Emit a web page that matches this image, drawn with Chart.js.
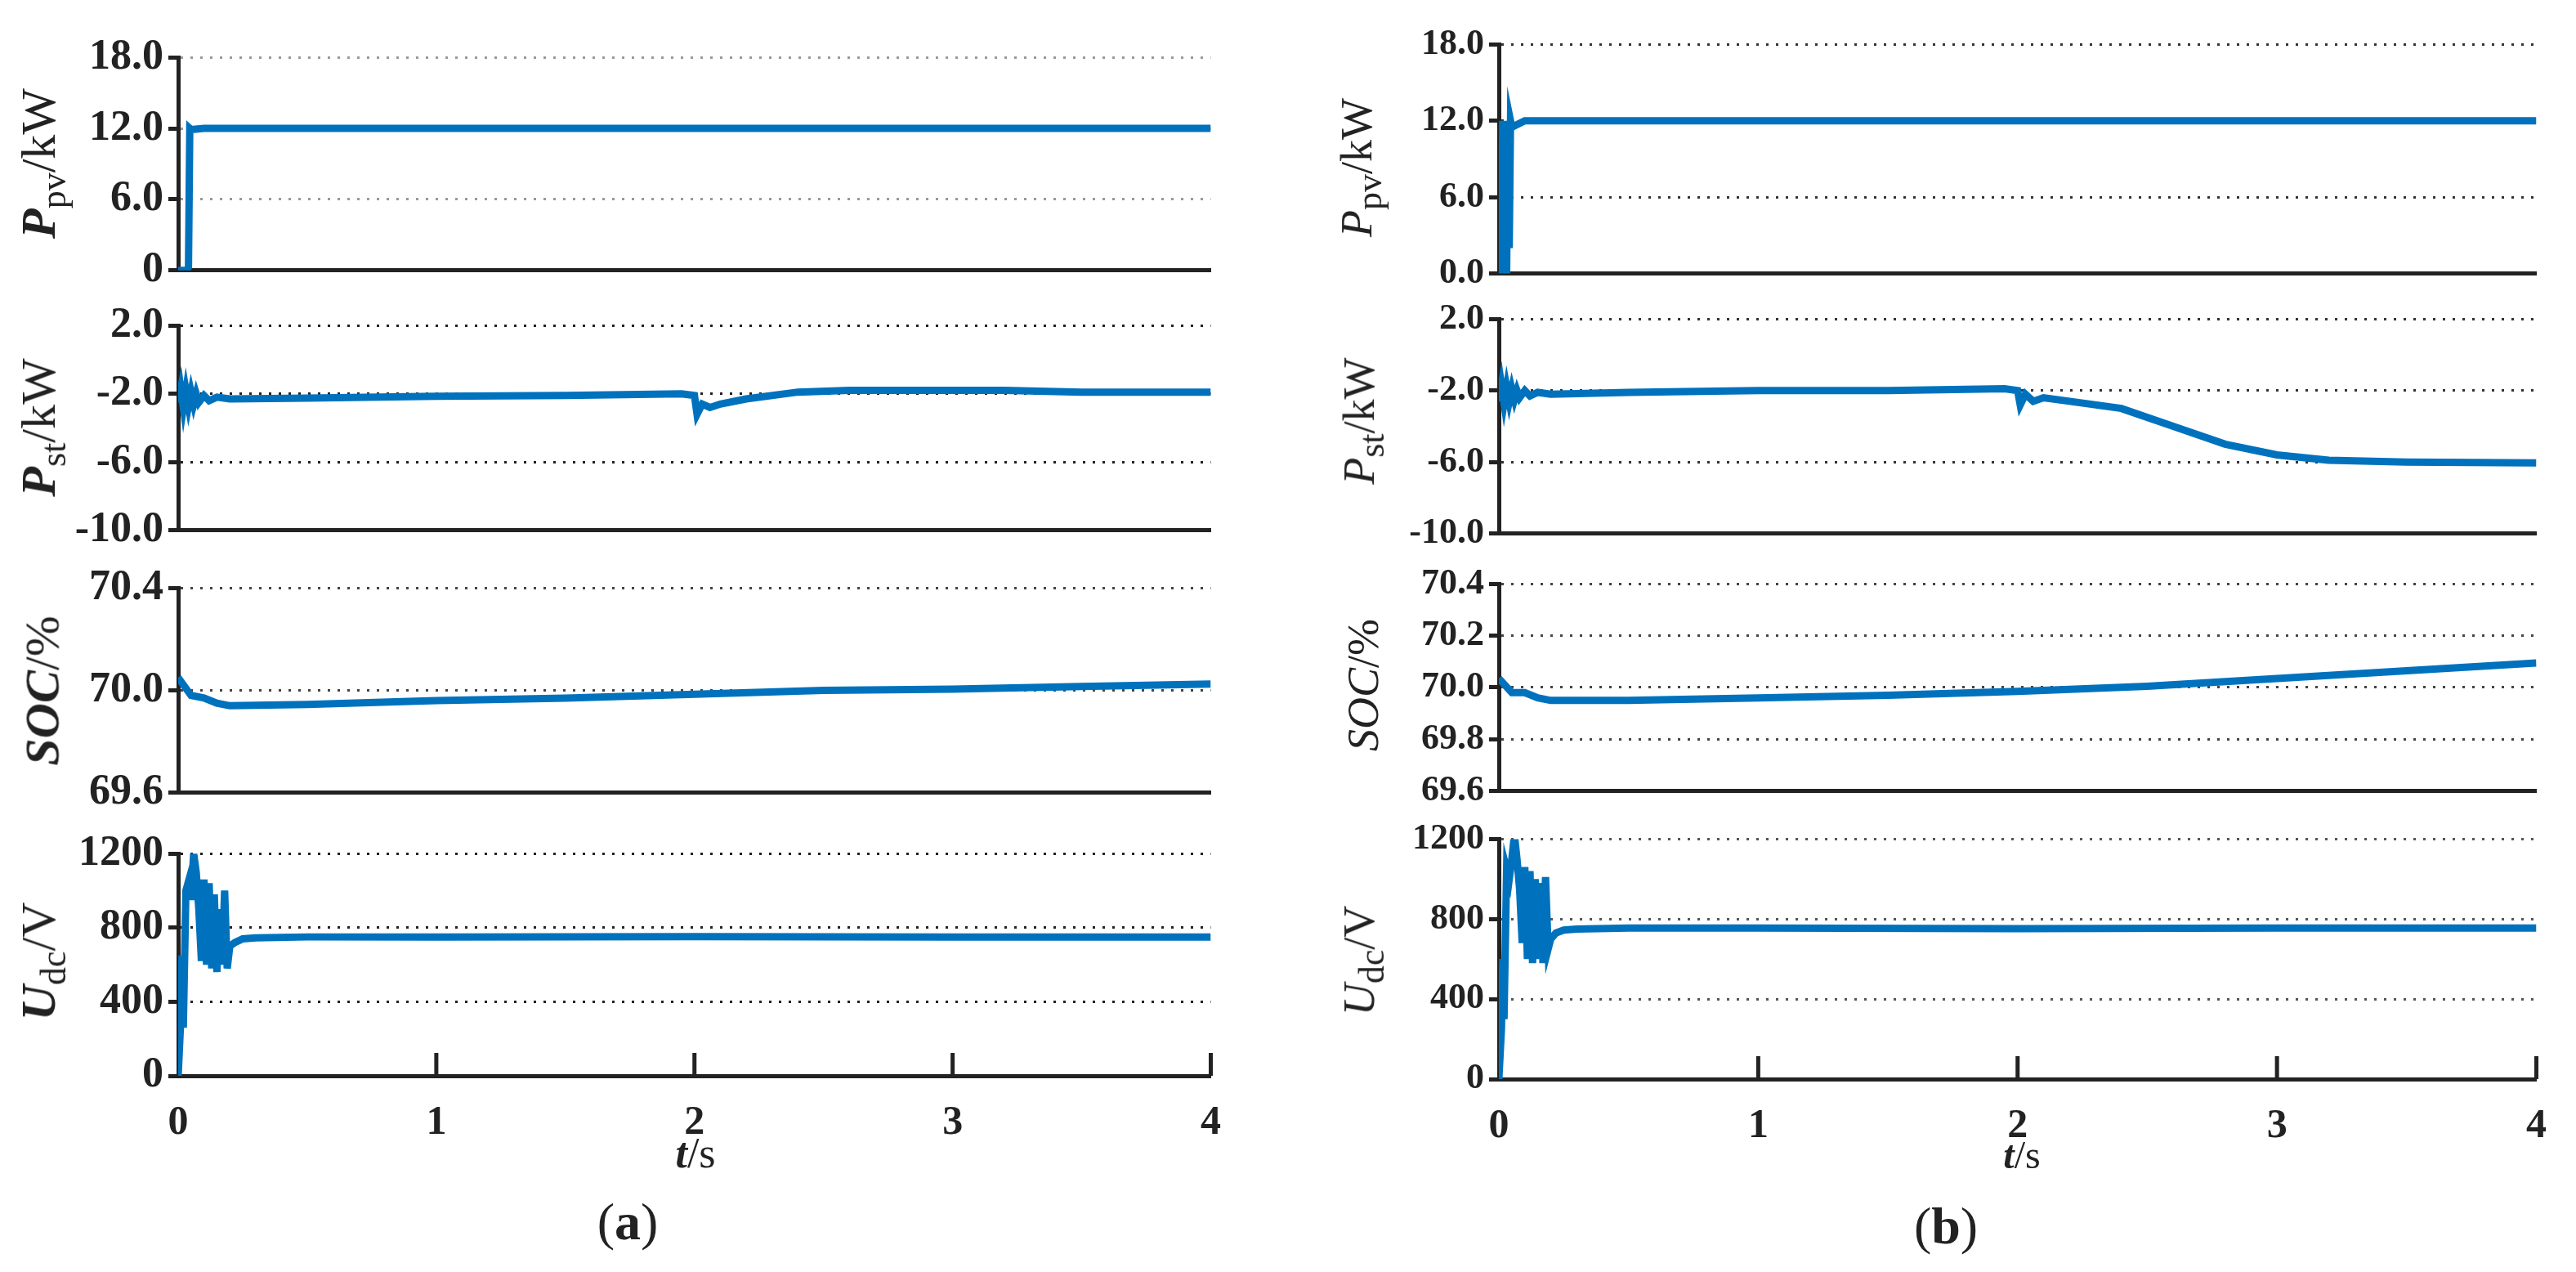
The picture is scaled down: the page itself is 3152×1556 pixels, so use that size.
<!DOCTYPE html>
<html>
<head>
<meta charset="utf-8">
<script src="https://cdn.jsdelivr.net/npm/chart.js@4.4.1/dist/chart.umd.min.js"></script>
<style>
  body { margin: 0; background: #fff; width: 3152px; height: 1556px; overflow: hidden; position: relative; font-family: "Liberation Serif", "DejaVu Serif", serif; }
  canvas { position: absolute; }
  .ylab { position: absolute; transform: translate(-50%, -50%) rotate(-90deg); white-space: nowrap; font-size: 56px; color: #222; }
  .ylab sub { font-size: 44px; }
  .txt { position: absolute; transform: translate(-50%, -50%); white-space: nowrap; color: #222; }
</style>
</head>
<body>
<script>
// time grids and signals
const tPv = [0, 0.005, 0.01, 0.015, 0.02, 0.025, 0.03, 0.035, 0.04, 0.045, 0.05, 0.1, 1, 2, 3, 4];
const pvA = [0, 0, 0, 0, 0, 0, 0, 0, 0.3, 12, 11.9, 12, 12, 12, 12, 12];
const pvB = [0, 10, 0, 12, 0, 11, 0, 12, 2, 12, 11.5, 12, 12, 12, 12, 12];

const tSt = [0, 0.01, 0.02, 0.03, 0.04, 0.05, 0.06, 0.07, 0.08, 0.1, 0.12, 0.15, 0.2, 0.5, 1, 1.5, 1.95, 2.0, 2.01, 2.03, 2.06, 2.1, 2.2, 2.4, 2.6, 2.8, 3.0, 3.2, 3.5, 4];
const stA = [-2.5, -1.7, -2.8, -1.8, -2.7, -1.9, -2.6, -2.0, -2.5, -2.1, -2.4, -2.2, -2.3, -2.25, -2.15, -2.1, -2.0, -2.1, -3.2, -2.6, -2.8, -2.6, -2.3, -1.9, -1.8, -1.8, -1.8, -1.8, -1.9, -1.9];
const stB = [-2.6, -1.7, -2.7, -1.8, -2.6, -1.9, -2.5, -2.0, -2.4, -2.0, -2.3, -2.1, -2.2, -2.1, -2.0, -2.0, -1.9, -2.0, -2.8, -2.2, -2.6, -2.4, -2.6, -3.0, -4.0, -5.0, -5.6, -5.9, -6.0, -6.05];

const tSoc = [0, 0.05, 0.1, 0.15, 0.2, 0.5, 1, 1.5, 2, 2.5, 3, 3.5, 4];
const socA = [70.05, 69.98, 69.97, 69.95, 69.94, 69.945, 69.96, 69.97, 69.985, 70.0, 70.005, 70.015, 70.025];
const socB = [70.035, 69.98, 69.98, 69.96, 69.95, 69.95, 69.96, 69.97, 69.985, 70.005, 70.035, 70.065, 70.095];

const tU = [0, 0.01, 0.015, 0.02, 0.03, 0.04, 0.05, 0.06, 0.07, 0.08, 0.09, 0.1, 0.11, 0.12, 0.13, 0.14, 0.15, 0.16, 0.17, 0.18, 0.19, 0.2, 0.22, 0.25, 0.3, 0.5, 1, 2, 3, 4];
const uA = [0, 300, 650, 260, 1000, 1050, 950, 1200, 1100, 900, 620, 1060, 600, 1040, 580, 980, 560, 900, 600, 1000, 580, 700, 720, 740, 745, 750, 750, 752, 750, 750];
const uB = [0, 250, 600, 300, 1050, 1000, 1100, 1220, 1100, 950, 680, 1060, 600, 1040, 580, 1000, 600, 980, 580, 1010, 650, 700, 730, 745, 750, 755, 755, 752, 755, 755];

const xTicks = [0, 1, 2, 3, 4];
const lineColor = '#0072BD';
const serif = '"Liberation Serif", "DejaVu Serif", serif';

function pts(ts, vs) { return ts.map((t, i) => ({ x: t, y: vs[i] })); }

const inwardTicks = {
  id: 'inwardTicks',
  afterDraw(chart) {
    if (!chart.options.plugins.inwardTicks.on) return;
    const { ctx, scales: { x }, chartArea } = chart;
    ctx.save();
    ctx.strokeStyle = '#222';
    ctx.lineWidth = 5;
    xTicks.forEach(v => {
      if (v === 0) return;
      const px = x.getPixelForValue(v);
      ctx.beginPath();
      ctx.moveTo(px, chartArea.bottom);
      ctx.lineTo(px, chartArea.bottom - 28);
      ctx.stroke();
    });
    ctx.restore();
  }
};

function panel(cfg) {
  const axisW = 200, padT = 30, padR = 30;
  const bottomExtra = cfg.bottom ? 110 : 30;
  const c = document.createElement('canvas');
  const w = cfg.right - cfg.left + axisW + padR;
  const h = cfg.botY - cfg.topY + padT + bottomExtra;
  c.style.left = (cfg.left - axisW) + 'px';
  c.style.top = (cfg.topY - padT) + 'px';
  c.style.width = w + 'px';
  c.style.height = h + 'px';
  c.width = w; c.height = h;
  document.body.appendChild(c);
  new Chart(c.getContext('2d'), {
    type: 'line',
    data: { datasets: [{ data: pts(cfg.t, cfg.v), borderColor: lineColor, borderWidth: 9, pointRadius: 0, tension: 0 }] },
    options: {
      responsive: false, animation: false, devicePixelRatio: 1,
      layout: { padding: { top: padT, right: padR, bottom: cfg.bottom ? 0 : 30, left: 0 } },
      plugins: { legend: { display: false }, tooltip: { enabled: false }, inwardTicks: { on: cfg.bottom } },
      scales: {
        x: {
          type: 'linear', min: 0, max: 4,
          afterBuildTicks: s => { s.ticks = xTicks.map(v => ({ value: v })); },
          afterFit: s => { s.height = cfg.bottom ? 110 : 0; },
          grid: { display: false },
          border: { display: true, color: '#222', width: 5 },
          ticks: { display: cfg.bottom, color: '#222', padding: 20, font: { family: serif, weight: 'bold', size: 50 } }
        },
        y: {
          min: cfg.ticks[0], max: cfg.ticks[cfg.ticks.length - 1],
          afterBuildTicks: s => { s.ticks = cfg.ticks.map(v => ({ value: v })); },
          afterFit: s => { s.width = axisW; },
          grid: {
            color: ctx => ctx.tick && ctx.tick.value === cfg.ticks[0] ? 'rgba(0,0,0,0)' : cfg.gridColor,
            lineWidth: 3, tickColor: '#222', tickWidth: 5, tickLength: 12
          },
          border: { display: true, color: '#222', width: 5, dash: [3, 9] },
          ticks: {
            color: '#222', padding: 6,
            font: { family: serif, weight: 'bold', size: cfg.font },
            callback: v => cfg.labels[cfg.ticks.indexOf(v)]
          }
        }
      }
    },
    plugins: [inwardTicks]
  });
}

const colA = { left: 218, right: 1484 };
const colB = { left: 1834, right: 3106 };

// column (a)
panel({ ...colA, topY: 63, botY: 338, t: tPv, v: pvA, ticks: [0, 6, 12, 18], labels: ['0', '6.0', '12.0', '18.0'], font: 52, gridColor: '#999' });
panel({ ...colA, topY: 391, botY: 656, t: tSt, v: stA, ticks: [-10, -6, -2, 2], labels: ['-10.0', '-6.0', '-2.0', '2.0'], font: 52, gridColor: '#222' });
panel({ ...colA, topY: 712, botY: 977, t: tSoc, v: socA, ticks: [69.6, 69.8, 70.0, 70.2, 70.4], labels: ['69.6', '69.8', '70.0', '70.2', '70.4'], font: 52, gridColor: '#444' });
panel({ ...colA, topY: 1037, botY: 1316, t: tU, v: uA, ticks: [0, 400, 800, 1200], labels: ['0', '400', '800', '1200'], font: 52, gridColor: '#222', bottom: true });
// column (b)
panel({ ...colB, topY: 52, botY: 337, t: tPv, v: pvB, ticks: [0, 6, 12, 18], labels: ['0.0', '6.0', '12.0', '18.0'], font: 44, gridColor: '#333' });
panel({ ...colB, topY: 388, botY: 655, t: tSt, v: stB, ticks: [-10, -6, -2, 2], labels: ['-10.0', '-6.0', '-2.0', '2.0'], font: 44, gridColor: '#333' });
panel({ ...colB, topY: 712, botY: 970, t: tSoc, v: socB, ticks: [69.6, 69.8, 70.0, 70.2, 70.4], labels: ['69.6', '69.8', '70.0', '70.2', '70.4'], font: 44, gridColor: '#444' });
panel({ ...colB, topY: 1024, botY: 1320, t: tU, v: uB, ticks: [0, 400, 800, 1200], labels: ['0', '400', '800', '1200'], font: 44, gridColor: '#555', bottom: true });

function addText(html, x, y, cls, size) {
  const d = document.createElement('div');
  d.className = cls;
  d.style.left = x + 'px'; d.style.top = y + 'px';
  if (size) d.style.fontSize = size + 'px';
  d.innerHTML = html;
  document.body.appendChild(d);
}
// y titles (a)
addText('<b><i>P</i></b><sub>pv</sub>/kW', 52, 200, 'ylab', 60);
addText('<b><i>P</i></b><sub>st</sub>/kW', 52, 523, 'ylab', 60);
addText('<b><i>SOC</i></b>/%', 52, 845, 'ylab', 60);
addText('<b><i>U</i></b><sub>dc</sub>/V', 52, 1176, 'ylab', 60);
// y titles (b)
addText('<i>P</i><sub>pv</sub>/kW', 1665, 205, 'ylab', 54);
addText('<i>P</i><sub>st</sub>/kW', 1668, 515, 'ylab', 54);
addText('<i>SOC</i>/%', 1668, 838, 'ylab', 54);
addText('<i>U</i><sub>dc</sub>/V', 1668, 1175, 'ylab', 54);
// x titles and captions
addText('<b><i>t</i></b>/s', 851, 1410, 'txt', 52);
addText('<b><i>t</i></b>/s', 2474, 1412, 'txt', 48);
addText('(<b>a</b>)', 768, 1495, 'txt', 64);
addText('(<b>b</b>)', 2381, 1500, 'txt', 64);
</script>
</body>
</html>
